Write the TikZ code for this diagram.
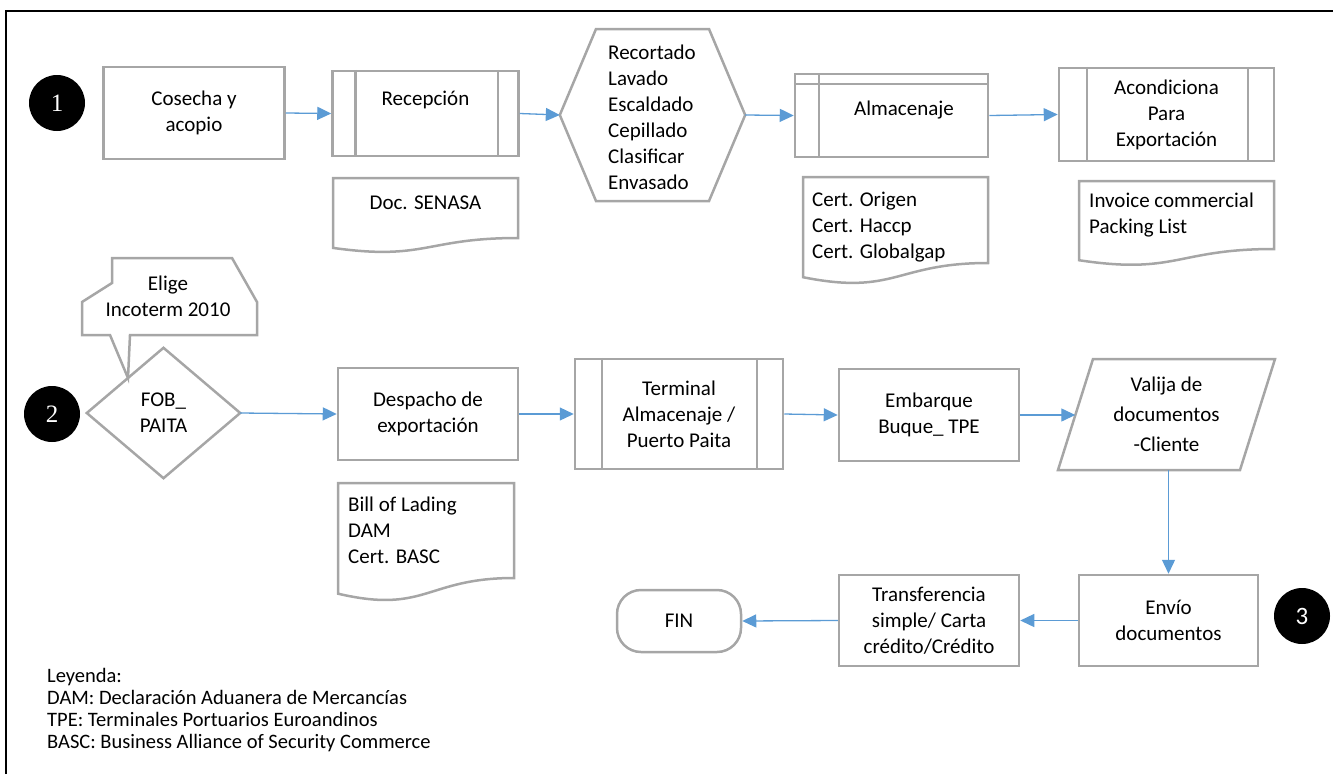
\documentclass[tikz,border=0pt]{standalone}
\usepackage{fontspec}
\setmainfont{Carlito}
\newfontfamily\numserif{Liberation Serif}
\usetikzlibrary{arrows.meta,calc}
\definecolor{bord}{HTML}{A6A6A6}
\definecolor{arr}{HTML}{5B9BD5}
\tikzset{
  box/.style={draw=bord, line width=2.5pt, align=center, inner sep=0pt},
  ghost/.style={draw=none, align=center, inner sep=0pt},
  outl/.style={draw=bord, line width=2.5pt, line join=miter},
  conn/.style={draw=arr, line width=1.3pt, -{Triangle[length=14pt,width=13pt]}},
  dot/.style={circle, fill=black, text=white, minimum size=56pt, inner sep=0pt},
  txt/.style={inner sep=0pt, align=left},
}
\newcommand\docshape[4]{% x1, ytop, x2, yright
  \draw[outl] (#1,#2) -- (#3,#2) -- (#3,#4)
    .. controls ({(#1+#3)/2},#4) and ({(#1+#3)/2},{#2+1.381*(#4-#2)})
    .. (#1,{#2+1.165*(#4-#2)}) -- cycle;}
\begin{document}
\begin{tikzpicture}[x=1pt,y=-1pt,font=\fontsize{21}{26}\selectfont]
\useasboundingbox (0,0) rectangle (1333,774);
% frame
\draw[line width=2pt] (6,774) -- (6,11) -- (1333,11);

% ---------- row 1 ----------
\node[dot] (c1) at (57,103) {\numserif\fontsize{25}{25}\selectfont 1};
\node[box, minimum width=181, minimum height=92] (cos) at (194,113) {Cosecha y\\acopio};
\node[box, minimum width=186, minimum height=85] (rec) at (425.5,113.5) {};
\draw[outl] ([xshift=24]rec.north west) -- ([xshift=24]rec.south west);
\draw[outl] ([xshift=-22]rec.north east) -- ([xshift=-22]rec.south east);
\node[txt] (rect) at (425.5,100) {Recepción};

\docshape{333}{178}{518}{238}
\node[txt] (d1) at (425.5,203) {Doc. SENASA};

\node[ghost, minimum width=185, minimum height=173] (hex) at (652.5,115) {};
\draw[outl] (hex.west) -- (596,29) -- (709,29) -- (hex.east) -- (709,201) -- (596,201) -- cycle;
\node[txt] (hext) at (652,117) {Recortado\\Lavado\\Escaldado\\Cepillado\\Clasificar\\Envasado};

\node[box, minimum width=193, minimum height=83] (alm) at (891.5,115.5) {};
\draw[outl] (alm.north west |- 0,84) -- (alm.north east |- 0,84);
\draw[outl] (819,0 |- alm.north) -- (819,0 |- alm.south);
\node[txt] (almt) at (904,110) {Almacenaje};

\docshape{803}{177}{988}{263}
\node[txt] (d2) at (812,227) [anchor=west] {Cert. Origen\\Cert. Haccp\\Cert. Globalgap};

\node[box, minimum width=215, minimum height=93] (acd) at (1166.5,114.5) {Acondiciona\\Para\\Exportación};
\draw[outl] (1087,0 |- acd.north) -- (1087,0 |- acd.south);
\draw[outl] (1248,0 |- acd.north) -- (1248,0 |- acd.south);

\docshape{1079}{181}{1274}{249}
\node[txt] (d3) at (1089,215.5) [anchor=west] {Invoice commercial\\Packing List};

\draw[conn] (cos.east) -- (rec.west);
\draw[conn] (rec.east) -- (hex.west);
\draw[conn] (hex.east) -- (alm.west);
\draw[conn] (alm.east) -- (acd.west);

% ---------- row 2 ----------
\node[dot] (c2) at (52,414) {\numserif\fontsize{25}{25}\selectfont 2};
\node[ghost, minimum width=153, minimum height=130] (dia) at (163.5,413) {FOB\_\\PAITA};
\draw[outl] (dia.north) -- (dia.east) -- (dia.south) -- (dia.west) -- cycle;

\draw[outl, fill=white] (112,258) -- (232,258) -- (257,302) -- (257,335) -- (130,335) -- (128,378) -- (110,335) -- (82,335) -- (82,302) -- (112,283) -- cycle;
\node[txt, align=center] (call) at (168,296) {Elige\\Incoterm 2010};

\node[box, minimum width=180, minimum height=92] (desp) at (428,414) {Despacho de\\exportación};
\docshape{338}{483}{514}{578}
\node[txt] (d4) at (348,530) [anchor=west] {Bill of Lading\\DAM\\Cert. BASC};

\node[box, minimum width=208, minimum height=110] (term) at (679,414) {Terminal\\Almacenaje /\\Puerto Paita};
\draw[outl] (602,0 |- term.north) -- (602,0 |- term.south);
\draw[outl] (757,0 |- term.north) -- (757,0 |- term.south);

\node[box, minimum width=180, minimum height=92] (emb) at (929,415) {Embarque\\Buque\_ TPE};

\node[ghost, minimum width=217, minimum height=111, font=\fontsize{21}{30}\selectfont] (val) at (1166.5,414.5) {Valija de\\documentos\\-Cliente};
\draw[outl] (1093,359) -- (1275,359) -- (1240,470) -- (1058,470) -- cycle;
\coordinate (valin) at (1075.3,415);

\node[box, minimum width=179, minimum height=91] (env) at (1168.5,620.5) {Envío\\documentos};
\node[dot] (c3) at (1302,616) {\fontsize{25}{25}\selectfont 3};
\node[box, minimum width=180, minimum height=91] (trans) at (929,620.5) {Transferencia\\simple/ Carta\\crédito/Crédito};
\node[box, minimum width=124, minimum height=62, rounded corners=24pt] (fin) at (679,621) {FIN};

\draw[conn] (dia.east) -- (desp.west);
\draw[conn] (desp.east) -- (term.west);
\draw[conn] (term.east) -- (emb.west);
\draw[conn] (emb.east) -- (valin);
\draw[conn] (env.north |- 0,470) -- (env.north);
\draw[conn] (env.west) -- (trans.east);
\draw[conn] (trans.west) -- (fin.east);

% legend
\node[txt, anchor=west, font=\fontsize{20.5}{21.7}\selectfont] (leg) at (47,710) {Leyenda:\\DAM: Declaración Aduanera de Mercancías\\TPE: Terminales Portuarios Euroandinos\\BASC: Business Alliance of Security Commerce};
\end{tikzpicture}
\end{document}
